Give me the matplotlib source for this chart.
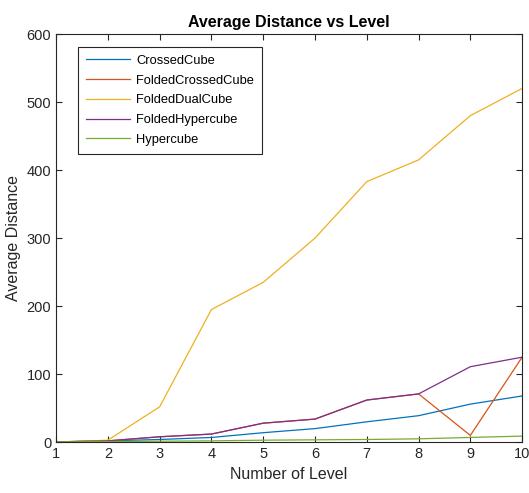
import matplotlib
matplotlib.use("Agg")
from matplotlib import pyplot as plt

plt.rcParams['font.family'] = ['Liberation Sans', 'DejaVu Sans']

levels = [1, 2, 3, 4, 5, 6, 7, 8, 9, 10]
crossed_cube = [0.5, 2, 4, 7, 14, 20, 30, 39, 56, 68]
folded_crossed_cube = [0.5, 2, 8, 12, 28, 34, 62, 71, 10, 125]
folded_dual_cube = [0, 3, 52, 195, 235, 300, 383, 415, 480, 520]
folded_hypercube = [0.5, 2, 8, 12, 28, 34, 62, 71, 111, 125]
hypercube = [0.5, 1, 1.5, 2, 3, 3.5, 4, 5, 7, 9]

names = ["CrossedCube", "FoldedCrossedCube", "FoldedDualCube", "FoldedHypercube", "Hypercube"]
series = [crossed_cube, folded_crossed_cube, folded_dual_cube, folded_hypercube, hypercube]
colors = ["#0072BD", "#D95319", "#EDB120", "#7E2F8E", "#77AC30"]

fig = plt.figure(figsize=(5.29, 4.93), dpi=100)
ax = fig.add_axes([0.106, 0.103, 0.881, 0.828])
for name, vals, c in zip(names, series, colors):
    ax.plot(levels, vals, color=c, linewidth=0.9, label=name)

ax.set_xlim(1, 10)
ax.set_ylim(0, 600)
ax.set_xticks(levels)
ax.set_yticks(range(0, 601, 100))
ax.tick_params(direction='in', top=True, right=True, labelsize=10.5, colors='#262626', length=4)
for s in ax.spines.values():
    s.set_color('#262626')
    s.set_linewidth(0.8)
ax.set_title("Average Distance vs Level", fontsize=11.5, fontweight='bold', pad=5)
ax.set_xlabel("Number of Level", fontsize=11.5, color='#262626')
ax.set_ylabel("Average Distance", fontsize=11.5, color='#262626')
leg = ax.legend(loc='upper left', bbox_to_anchor=(0.033, 0.984), fontsize=9.3, fancybox=False,
                framealpha=1, edgecolor='#262626', handlelength=3.4, labelspacing=0.6,
                borderpad=0.6, handletextpad=0.5)
leg.get_frame().set_linewidth(0.8)
fig.savefig("out.png", dpi=100)
